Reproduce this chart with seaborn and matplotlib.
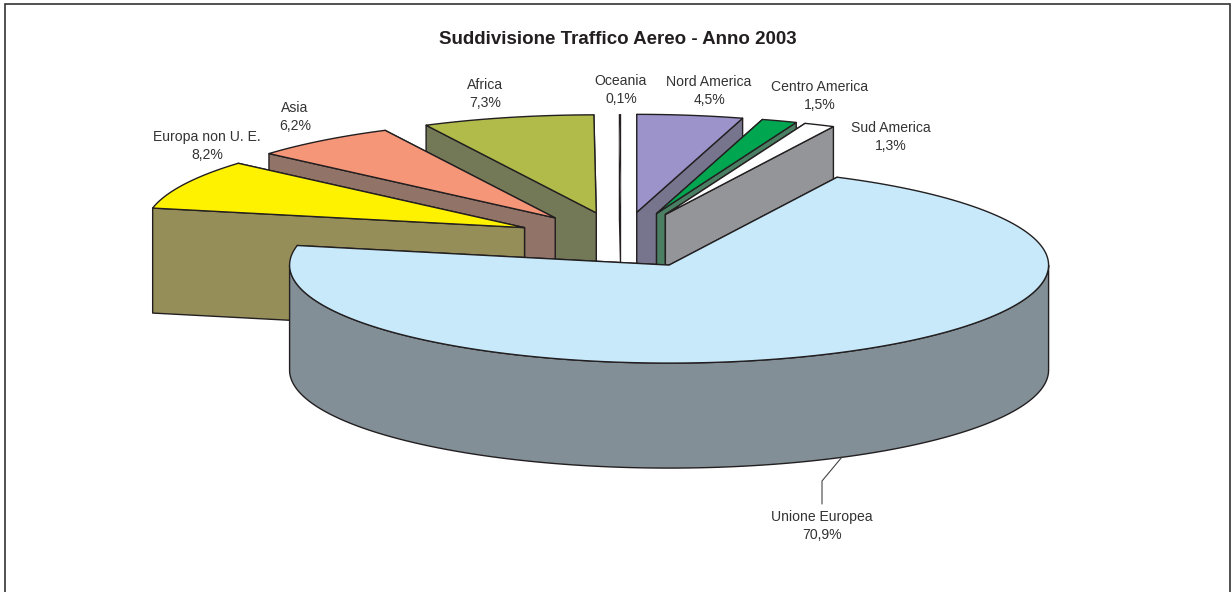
import numpy as np
import matplotlib
matplotlib.use("Agg")
import matplotlib.pyplot as plt
from matplotlib.patches import Polygon
import seaborn as sns

# data, clockwise from 12 o'clock
regions = ["Nord America", "Centro America", "Sud America", "Unione Europea",
           "Europa non U. E.", "Asia", "Africa", "Oceania"]
shares = [4.5, 1.5, 1.3, 70.9, 8.2, 6.2, 7.3, 0.1]
title = "Suddivisione Traffico Aereo - Anno 2003"

# colours, same order as regions
edge = "#231F20"
top_colors = sns.color_palette(["#9B93C9", "#00A650", "#FFFFFF", "#C7E9FA",
                                "#FFF200", "#F69679", "#B0BB4A", edge])
wall_colors = sns.color_palette(["#77758E", "#4A7F63", "#939598", "#828F97",
                                 "#968E59", "#917368", "#737957", edge])
# Oceania is so thin it only reads as a dark stroke
edge_widths = [1.0, 1.0, 1.0, 1.0, 1.0, 1.0, 1.0, 0.0]

# label centres in pixels, same order as regions
label_pos = [(709, 91), (820, 96), (891, 137), (822, 526),
             (207, 146), (295, 117), (485, 94), (621, 90)]

# pie geometry in pixels
cx, cy = 621.5, 240
rx, ry = 379.5, 98
depth = 105
explode = 0.285
text_color = "#333333"

sns.set_theme(style="white")
plt.rcParams["font.family"] = ["Liberation Sans", "DejaVu Sans"]

fig = plt.figure(figsize=(12.31, 5.92), dpi=100)
ax = fig.add_axes([0, 0, 1, 1])
ax.set_xlim(0, 1231)
ax.set_ylim(592, 0)
ax.axis("off")


def rim(theta, ox, oy):
    # theta in degrees, clockwise from the top
    t = np.radians(theta)
    return np.column_stack([ox + rx * np.sin(t), oy - ry * np.cos(t)])


def face(pts, color, lw):
    ax.add_patch(Polygon(pts, closed=True, facecolor=color, edgecolor=edge,
                         linewidth=lw, joinstyle="round"))


def drop(pts):
    return pts + np.array([0, depth])


ends = np.cumsum(shares) * 3.6
starts = ends - np.array(shares) * 3.6
mids = (starts + ends) / 2

# back to front
order = sorted(range(len(shares)), key=lambda i: -abs(mids[i] - 180))
for i in order:
    m = np.radians(mids[i])
    ox = cx + explode * rx * np.sin(m)
    oy = cy - explode * ry * np.cos(m)
    tip = np.array([[ox, oy]])
    lw = edge_widths[i]

    # radial walls, the hidden one first
    angles = [starts[i], ends[i]] if mids[i] < 180 else [ends[i], starts[i]]
    for a in angles:
        edge_pts = np.vstack([tip, rim(np.array([a]), ox, oy)])
        face(np.vstack([edge_pts, drop(edge_pts)[::-1]]), wall_colors[i], lw)

    # outer wall only where the rim faces the viewer
    lo, hi = max(starts[i], 90), min(ends[i], 270)
    if hi > lo:
        arc = rim(np.linspace(lo, hi, 200), ox, oy)
        face(np.vstack([arc, drop(arc)[::-1]]), wall_colors[i], lw)

    arc = rim(np.linspace(starts[i], ends[i], 200), ox, oy)
    face(np.vstack([tip, arc]), top_colors[i], lw)

# labels
for name, share, (x, y) in zip(regions, shares, label_pos):
    pct = f"{share:.1f}".replace(".", ",") + "%"
    ax.text(x, y, f"{name}\n{pct}", ha="center", va="center", fontsize=10.1,
            color=text_color, linespacing=1.45)

# leader line to Unione Europea
ax.plot([842, 822, 822], [457, 481, 504], color="#444444", linewidth=0.8)

ax.text(618, 39, title, ha="center", va="center", fontsize=13.5,
        fontweight="bold", color=edge)

# chart frame, the bottom side is cut off
ax.plot([5, 5, 1230, 1230], [592, 3.5, 3.5, 592], color="#333333",
        linewidth=1.2, solid_joinstyle="miter")

fig.savefig("out.png", dpi=100)
